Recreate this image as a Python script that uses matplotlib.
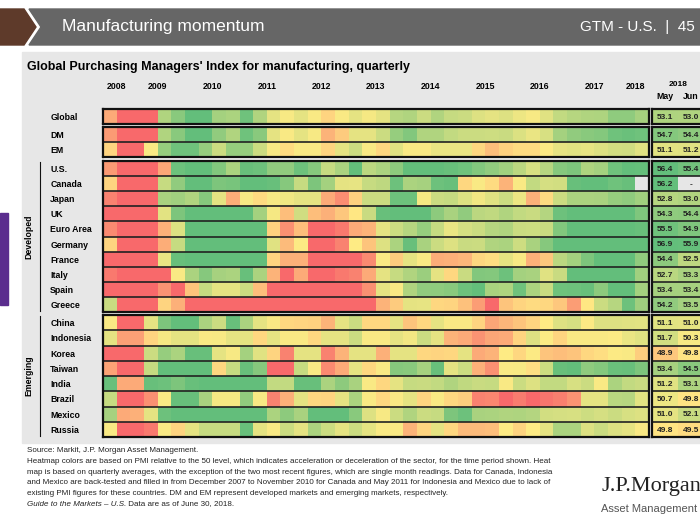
import numpy as np
import matplotlib
matplotlib.use("Agg")
import matplotlib.pyplot as plt
from matplotlib.colors import LinearSegmentedColormap, TwoSlopeNorm
from matplotlib.patches import Polygon, Rectangle

plt.rcParams['font.family'] = ['Liberation Sans', 'DejaVu Sans']
nan = np.nan

# quarterly PMI readings (40 columns per row)
global_pmi = [48, 44.5, 44.5, 45.5, 53, 54.5, 56, 56, 53.5, 53.2,
              55.5, 53, 51, 50.3, 51, 50.2, 49.3, 50.2, 51, 50.4,
              51, 52.8, 53, 52, 53, 52.2,
              52, 51.3, 51, 51.3, 50.7, 50.3, 51.2, 52.3, 52.8, 53, 53.1, 54.3, 54.3, 53.4]
dm = [47.5, 44.5, 44.5, 44.5, 53, 54.5, 56, 56, 54.2, 53,
      55.5, 54.5, 51, 50.2, 51, 50.3, 48.3, 49, 51, 51,
      52, 54, 54.8, 53, 53, 52.3,
      52, 52, 51.9, 52.1, 51.4, 50.8, 51.5, 53.5, 54.2, 54.5, 54.7, 55.5, 55.7, 55.5]
em = [49.3, 44.5, 44.5, 50.2, 54, 55.5, 55.5, 54, 52, 54,
      54, 52, 50.3, 49.5, 50.2, 50.2, 49.3, 51, 52, 50.2,
      49.4, 51.2, 50.2, 50.2, 50.8, 50.8,
      50.8, 49.4, 48.6, 49.2, 49.5, 49.5, 50.1, 50.9, 51.1, 50.9, 51.3, 51.7, 51.8, 51.1]
us = [47.5, 44.5, 44.5, 44.5, 47.9, 55.6, 56, 56, 54.8, 53.2,
      55.8, 55.6, 54.2, 54.2, 55.6, 54.6, 52.2, 53.2, 56.2, 52.6,
      53.2, 54.4, 56, 56, 56, 55.8,
      55.5, 54.8, 54.2, 53.6, 52.6, 51.5, 52.8, 54.6, 55, 53.1, 53.5, 55.5, 56, 55.9]
canada = [49.3, 44.5, 44.5, 45.8, 52.2, 54.2, 56, 56, 55, 55.2,
          56, 56, 55.8, 54.6, 52.2, 55, 53.5, 51, 50.9, 52.2,
          52.5, 55.6, 53.2, 53.4, 55.6, 55.8,
          49.4, 50.2, 49.5, 48.3, 50.2, 52.3, 51.6, 51.7, 55.8, 56, 56, 55.5, 55.8, nan]
japan = [46.8, 44.5, 44.5, 44.8, 53.3, 53.6, 53, 54.6, 51, 48.1,
         50.3, 49.5, 50.3, 50.6, 51, 51, 48, 47.1, 49.2, 52,
         52, 55.6, 55.6, 50.4, 52, 52.2,
         51.3, 50.5, 51.2, 52, 50.7, 48.2, 49.5, 52, 53.2, 53.2, 53.3, 54, 54.3, 53.6]
uk = [44.3, 44.3, 44.3, 44.3, 51.1, 55, 56, 56, 56, 56,
      56, 53.5, 50.4, 48.6, 51.8, 48.6, 48.2, 48.9, 49.9, 52.1,
      55.8, 56, 56, 56, 54.4, 53.3,
      54.2, 52.6, 52.4, 53, 52.3, 52.1, 52.9, 55.6, 56, 56, 56, 56, 56, 54.9]
euro_area = [47, 44.5, 44.5, 44.5, 48.2, 51.3, 56, 56, 56, 56,
             56, 56, 49.2, 47.2, 48.6, 45, 44.5, 46.5, 48, 48.3,
             51, 52, 52.8, 54, 52.2, 50.8,
             51.6, 52, 52.8, 53, 52, 51.9, 52.1, 54.8, 56, 56, 56, 56, 56, 55.8]
germany = [49.3, 44.5, 44.5, 44.5, 48.1, 52.2, 56, 56, 56, 56,
           56, 56, 51.2, 48.5, 50.1, 45, 44.5, 46.8, 50, 48.8,
           51.3, 53.2, 55.8, 53.3, 52, 51.3,
           52.1, 52, 53, 53.2, 51.9, 53.3, 54.6, 56, 56, 56, 56, 56, 56, 56]
france = [44.3, 44.3, 44.3, 44.3, 50.8, 55.8, 56, 56, 56, 56,
          56, 56, 49.3, 48.2, 48.2, 45, 44.5, 44.5, 44.7, 47,
          50.2, 49, 51, 50.2, 48.1, 48.2,
          48.4, 49.4, 49.6, 51, 50.2, 48.2, 48.9, 52.6, 53.5, 55, 56, 56, 56, 54.2]
italy = [46.5, 44.5, 44.5, 44.5, 45.8, 50.2, 53.2, 54.6, 53.4, 53.2,
         55.8, 53.2, 48.3, 44.8, 48, 44.8, 44.6, 46.5, 46.8, 48,
         51, 52.2, 53, 53.8, 51, 49.4,
         52.1, 54.8, 54.7, 55.6, 53.5, 53.3, 51.2, 52.1, 56, 56, 56, 56, 56, 53.6]
spain = [44.3, 44.3, 44.3, 44.3, 47.3, 45.8, 48.8, 52.2, 51, 51,
         52, 48.6, 44.5, 44.3, 44.3, 44.3, 44.3, 44.3, 45.5, 47.2,
         51, 50.2, 53, 54.2, 54.3, 54.5,
         55.6, 56, 53.3, 53.1, 55.5, 53.2, 52.1, 55.5, 55.6, 55.8, 54.4, 56, 56, 53.5]
greece = [52.1, 44.5, 44.5, 44.5, 49.3, 48.2, 44.5, 44.5, 44.5, 44.5,
          44.5, 45.2, 44.3, 44.3, 44.3, 44.3, 44.3, 44.3, 44.5, 44.8,
          48.3, 49, 51, 50.9, 49.4, 49.3,
          48.7, 47.6, 44.6, 48.8, 49.3, 49.5, 49.4, 48.9, 47.6, 49.9, 52, 52.8, 55.6, 53.7]
china = [50.2, 44.5, 44.5, 51, 55, 56, 56, 53.2, 52, 55.8,
         53.2, 51, 50.2, 49.4, 49.3, 49.2, 48.3, 51, 52, 49.4,
         49.4, 51, 48.8, 49.4, 51, 50.2,
         50.2, 49.3, 47.9, 48.4, 48.8, 49.3, 50, 51.3, 51.6, 50.1, 51.3, 51.3, 51.2, 51.1]
indonesia = [51, 47.7, 47.7, 49.3, 50.4, 51, 51, 50.2, 50.3, 51,
             51, 49.4, 51, 50.2, 50.2, 49.4, 51, 51, 52, 50.2,
             50.2, 51, 50.5, 52, 51, 48.3,
             48, 47.3, 47.9, 48, 49.3, 51.3, 50.1, 49.3, 50.2, 50.2, 50.2, 50.1, 50.8, 51.2]
korea = [44.5, 44.5, 44.5, 52, 54, 53.2, 55.8, 55.8, 51, 50.3,
         53.5, 51.2, 49.3, 46.8, 51, 51, 46.8, 48.3, 51, 51,
         48.2, 51, 51, 49.4, 49.3, 49.4,
         51, 48, 48.3, 50, 49.4, 50.1, 48.8, 48.6, 48.8, 49.4, 49.6, 50.1, 50.2, 49.1]
taiwan = [47.8, 44.5, 44.5, 52.2, 56, 56, 56, 56, 49.4, 52.2,
          55.8, 54.6, 44.8, 44.8, 52.2, 50.2, 47, 48, 51, 49.4,
          50.2, 54.6, 54.5, 53.4, 55.8, 51,
          52, 48.2, 47.2, 50.2, 50.3, 49.6, 52, 55.8, 56, 54.3, 54.7, 55.7, 55.8, 55]
india = [55.8, 48, 48, 55.8, 55.6, 55, 55.8, 56, 56, 56,
         56, 56, 52.3, 52.3, 55.8, 55.8, 53.2, 54.4, 53.3, 50.2,
         49.4, 51, 52.2, 52.1, 52.3, 53,
         52.4, 52.1, 52.2, 50.2, 52, 51.3, 52.3, 52.3, 51.5, 52, 50.2, 53.2, 52.3, 52.1]
brazil = [52.2, 44.5, 44.5, 47.2, 50.2, 55.8, 55.8, 53.3, 50.4, 50.4,
          54.2, 50.3, 46.8, 48.2, 51, 49.4, 49.3, 51, 53.2, 50.2,
          49.4, 50.2, 51, 49.3, 50.2, 49.4,
          49.1, 46.8, 46.9, 45.2, 46.6, 44.6, 46.4, 46.7, 47.3, 51, 51, 52.7, 52.8, 51.1]
mexico = [53.4, 48, 48.2, 51, 55.6, 56, 56, 56, 56, 56,
          56, 56, 53.2, 54.4, 53.3, 56, 56, 56, 54.5, 51.3,
          50.3, 52, 53, 52, 52.2, 55,
          55.6, 53.3, 53.2, 53, 53.1, 52.9, 51.7, 51.6, 51.5, 51.9, 51.6, 52, 51.5, 51.3]
russia = [50.2, 44.5, 44.5, 46.5, 50.2, 49.3, 51, 52.2, 52.2, 52.2,
          55.8, 51, 50.2, 52, 51, 53.2, 52, 51, 52, 51,
          50.2, 50.2, 48.3, 49.3, 51, 49.4,
          48.5, 48.5, 48.6, 50, 49.3, 50, 51, 53.2, 53.2, 51.3, 52, 51.3, 51, 50.2]

# latest single-month readings (same row order)
may_2018 = [53.1, 54.7, 51.1, 56.4, 56.2, 52.8, 54.3, 55.5, 56.9, 54.4, 52.7,
            53.4, 54.2, 51.1, 51.7, 48.9, 53.4, 51.2, 50.7, 51.0, 49.8]
jun_2018 = [53.0, 54.4, 51.2, 55.4, nan, 53.0, 54.4, 54.9, 55.9, 52.5, 53.3,
            53.4, 53.5, 51.0, 50.3, 49.8, 54.5, 53.1, 49.8, 52.1, 49.5]

year_labels = ['2008', '2009', '2010', '2011', '2012', '2013', '2014',
               '2015', '2016', '2017', '2018']
year_cols = [1, 4, 8, 12, 16, 20, 24, 28, 32, 36, 39]

developed = ['U.S.', 'Canada', 'Japan', 'UK', 'Euro Area', 'Germany',
             'France', 'Italy', 'Spain', 'Greece']
emerging = ['China', 'Indonesia', 'Korea', 'Taiwan', 'India', 'Brazil',
            'Mexico', 'Russia']

W, H = 700, 525
fig = plt.figure(figsize=(7, 5.25), dpi=100)

cmap = LinearSegmentedColormap.from_list('pmi', ['#F8696B', '#FFEB84', '#63BE7B'])
cmap.set_bad('#E6E6E6')
norm = TwoSlopeNorm(vmin=46, vcenter=50, vmax=56)

# background decorations (pixel coordinates)
bg = fig.add_axes([0, 0, 1, 1])
bg.set_xlim(0, W)
bg.set_ylim(H, 0)
bg.axis('off')
bg.add_patch(Polygon([(0, 9), (24, 9), (36, 27), (24, 45), (0, 45)], color='#5E3A2A'))
bg.add_patch(Polygon([(29, 9), (700, 9), (700, 45), (29, 45), (41, 27)], color='#666666'))
bg.add_patch(Rectangle((22, 52), 678, 391, color='#E7E7E7'))
bg.add_patch(Rectangle((0, 213), 8, 92, color='#5B2D8E'))
# light separators between the row groups
for ya, yb in [(124, 127), (157, 161), (312, 315)]:
    bg.add_patch(Rectangle((101, ya), 599, yb - ya, color='#F7F7F7'))

bg.text(62, 27, 'Manufacturing momentum', color='white', fontsize=12.5,
        va='center')
bg.text(695, 27, 'GTM - U.S.  |  45', color='white', fontsize=11,
        va='center', ha='right')
bg.text(27, 67, "Global Purchasing Managers' Index for manufacturing, quarterly",
        fontsize=9, fontweight='bold', va='center')

notes = ["Source: Markit, J.P. Morgan Asset Management.",
         "Heatmap colors are based on PMI relative to the 50 level, which indicates acceleration or deceleration of the sector, for the time period shown. Heat",
         "map is based on quarterly averages, with the exception of the two most recent figures, which are single month readings. Data for Canada, Indonesia",
         "and Mexico are back-tested and filled in from December 2007 to November 2010 for Canada and May 2011 for Indonesia and Mexico due to lack of",
         "existing PMI figures for these countries. DM and EM represent developed markets and emerging markets, respectively."]
for i, line in enumerate(notes):
    bg.text(27, 451 + i * 10.6, line, fontsize=5.8, va='center', color='#222222')
it = bg.text(27, 451 + 5 * 10.6, 'Guide to the Markets \u2013 U.S.', fontsize=5.8,
             style='italic', va='center', color='#222222')
fig.canvas.draw()
bb = it.get_window_extent().transformed(bg.transData.inverted())
bg.text(bb.x1, 451 + 5 * 10.6, ' Data are as of June 30, 2018.', fontsize=5.8,
        va='center', color='#222222')

bg.text(601, 491, 'J.P.Morgan', fontsize=16, family=['Liberation Serif', 'DejaVu Serif'],
        va='baseline', color='#222222')
bg.text(601, 512, 'Asset Management', fontsize=8,
        va='baseline', color='#555555')


def add_ax(x0, y0, x1, y1):
    return fig.add_axes([x0 / W, 1 - y1 / H, (x1 - x0) / W, (y1 - y0) / H])


groups = [
    (['Global'], [global_pmi], 109, 124),
    (['DM', 'EM'], [dm, em], 127, 157),
    (developed, [us, canada, japan, uk, euro_area, germany, france, italy, spain, greece], 161, 312),
    (emerging, [china, indonesia, korea, taiwan, india, brazil, mexico, russia], 315, 437),
]

start = 0
for gi, (names, rows, y0, y1) in enumerate(groups):
    n = len(rows)
    vals = np.array(rows, dtype=float)
    ax = add_ax(103, y0, 649, y1)
    ax.pcolormesh(np.arange(vals.shape[1] + 1), np.arange(n + 1), vals,
                  cmap=cmap, norm=norm)
    ax.set_xlim(0, vals.shape[1])
    ax.set_ylim(n, 0)
    ax.hlines(np.arange(1, n), 0, vals.shape[1], color='#222222', lw=1.2)
    for s in ax.spines.values():
        s.set_linewidth(1.6)
        s.set_color('#111111')
    ax.set_yticks(np.arange(n) + 0.5)
    ax.set_yticklabels(names, fontsize=6.3, fontweight='bold', ha='left')
    ax.tick_params(axis='y', length=0, pad=38)
    if gi == 0:
        ax.xaxis.tick_top()
        ax.set_xticks(year_cols)
        ax.set_xticklabels(year_labels, fontsize=6.3, fontweight='bold')
        ax.tick_params(axis='x', length=0, pad=13)
    else:
        ax.set_xticks([])

    if gi >= 2:
        label = 'Developed' if gi == 2 else 'Emerging'
        lx = (40 - 103) / 546
        ax.plot([lx, lx], [0.005, 0.995], color='#111111', lw=0.8,
                transform=ax.transAxes, clip_on=False)
        ax.text((29 - 103) / 546, 0.5, label, rotation=90, fontsize=6.3,
                fontweight='bold', ha='center', va='center', transform=ax.transAxes)

    # latest monthly readings table
    may = may_2018[start:start + n]
    jun = jun_2018[start:start + n]
    start += n
    tv = np.column_stack([may, jun])
    tax = add_ax(652, y0, 704, y1)
    tax.pcolormesh(np.arange(3), np.arange(n + 1), tv, cmap=cmap, norm=norm)
    tax.set_xlim(0, 2)
    tax.set_ylim(n, 0)
    tax.hlines(np.arange(1, n), 0, 2, color='#222222', lw=1.2)
    for s in tax.spines.values():
        s.set_linewidth(1.6)
        s.set_color('#111111')
    tax.set_yticks([])
    for r in range(n):
        for c in range(2):
            v = tv[r, c]
            txt = '-' if np.isnan(v) else f'{v:.1f}'
            tax.text(c + 0.5, r + 0.55, txt, fontsize=6, fontweight='bold',
                     ha='center', va='center', color='#222222')
    if gi == 0:
        tax.xaxis.tick_top()
        tax.set_xticks([0.5, 1.5])
        tax.set_xticklabels(['May', 'Jun'], fontsize=6.3, fontweight='bold')
        tax.tick_params(axis='x', length=0, pad=6)
        tax.text(1.0, -1.65, '2018', fontsize=6, fontweight='bold', ha='center',
                 va='center', transform=tax.transData, clip_on=False)
    else:
        tax.set_xticks([])

fig.savefig('out.png', dpi=100)
